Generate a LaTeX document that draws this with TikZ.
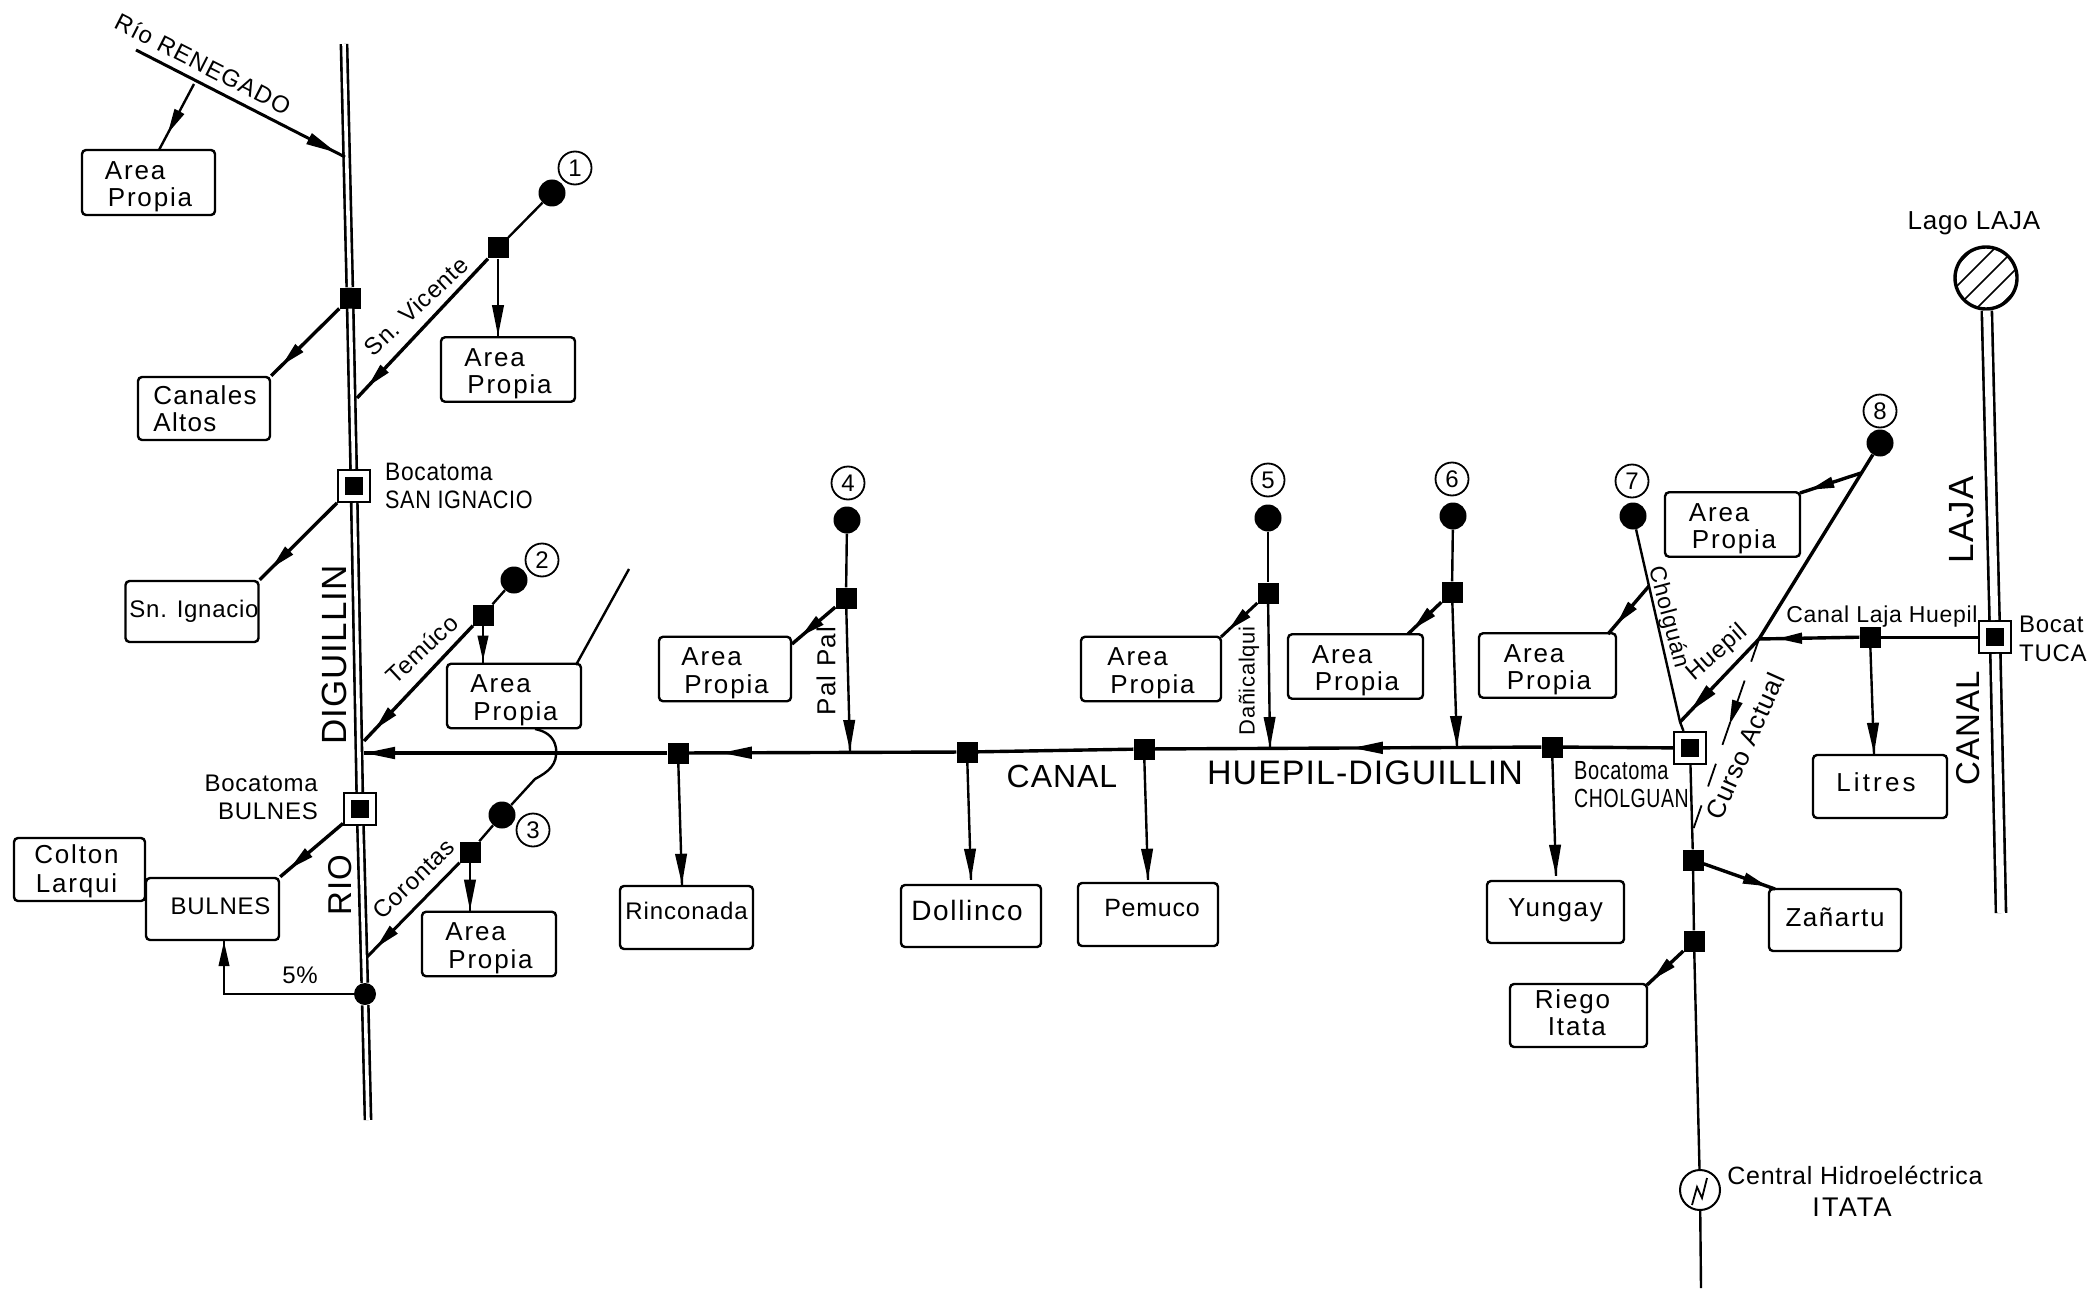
\documentclass[tikz,border=0pt]{standalone}
\usepackage{fontspec}
\usepackage{graphicx}
\setmainfont[LetterSpace=3]{Liberation Sans}
\usetikzlibrary{arrows.meta,decorations.markings,calc}
\newcommand{\fs}[1]{\fontsize{#1}{#1}\selectfont}
\newcommand{\ls}[1]{\addfontfeature{LetterSpace=#1}}
\newcommand{\up}[2][6pt]{\raisebox{#1}{#2}}
\newcommand{\bx}[6]{\node[box,minimum width={(#4-#2)*1pt},minimum height={(#5-#3)*1pt}] (#1) at ({(#2+#4)/2},{(#3+#5)/2}) {#6};}
\newcommand{\areatxt}{{\ls{7}\begin{tabular}{@{}l@{}}\rule{0pt}{29pt}Area\\[1pt]\hspace*{3pt}Propia\end{tabular}}}
\tikzset{
  box/.style={draw,rectangle,rounded corners=4pt,line width=2.4pt,inner sep=0pt,fill=white,font=\fs{26},align=left},
  gate/.style={rectangle,fill=black,minimum size=21pt,inner sep=0pt},
  intake/.style={rectangle,draw,line width=2pt,fill=white,minimum size=32pt,inner sep=0pt,
    path picture={\fill[black] ([shift={(-9pt,-9pt)}]path picture bounding box.center) rectangle ([shift={(9pt,9pt)}]path picture bounding box.center);}},
  src/.style={circle,fill=black,minimum size=27pt,inner sep=0pt},
  num/.style={circle,draw,line width=1.8pt,minimum size=33pt,inner sep=0pt,font=\fs{24}},
  txt/.style={inner sep=0pt,font=\fs{24},align=left},
  bigtxt/.style={inner sep=0pt,font=\fs{33}},
  ln/.style={line width=2.4pt},
  thk/.style={line width=3.4pt},
  river/.style={line width=2.6pt,double=white,double distance=3.6pt},
  arr/.style={postaction={decorate,decoration={markings,mark=at position #1 with {\arrow{Triangle[length=31pt,width=11.5pt]}}}}},
  sarr/.style={postaction={decorate,decoration={markings,mark=at position #1 with {\arrow{Triangle[length=25pt,width=10.5pt]}}}}},
}
\begin{document}
\begin{tikzpicture}[x=1pt,y=-1pt]
\useasboundingbox (0,0) rectangle (2087,1289);
\clip (0,0) rectangle (2087,1289);
\fill[white] (0,0) rectangle (2087,1289);
% boxes
\bx{a0}{82}{150}{215}{215}{\areatxt}
\bx{can}{138}{377}{270}{440}{\hspace*{2pt}\ls{5}Canales\\[1pt]\hspace*{2pt}\ls{5}Altos}
\bx{a1}{441}{338}{575}{401}{\areatxt}
\bx{sni}{126}{581}{258}{642}{\hspace*{4pt}\fs{24}Sn. Ignacio}
\bx{a2}{447}{665}{581}{727}{\areatxt}
\bx{col}{14}{838}{145}{901}{\hspace*{-6pt}{\ls{7}\begin{tabular}{@{}c@{}}\rule{0pt}{25pt}Colton\\[2pt]Larqui\end{tabular}}}
\bx{bul}{146}{878}{279}{940}{\hspace*{16pt}\up[6pt]{\fs{24}BULNES}}
\bx{a3}{422}{913}{556}{975}{\areatxt}
\bx{rin}{620}{886}{753}{949}{\up[14pt]{\fs{24}\ls{4}Rinconada}}
\bx{dol}{901}{885}{1041}{947}{\hspace*{-8pt}\up[11pt]{\fs{28}\ls{6}Dollinco}}
\bx{pem}{1078}{883}{1218}{946}{\hspace*{8pt}\up[14pt]{\fs{25}Pemuco}}
\bx{a4}{659}{638}{791}{700}{\areatxt}
\bx{a5}{1081}{638}{1221}{700}{\areatxt}
\bx{a6}{1288}{635}{1423}{698}{\areatxt}
\bx{a7}{1479}{634}{1616}{697}{\areatxt}
\bx{yun}{1487}{881}{1624}{943}{\up[8pt]{\ls{6}Yungay}}
\bx{a8}{1665}{493}{1800}{556}{\areatxt}
\bx{lit}{1813}{755}{1947}{818}{\hspace*{-8pt}\up[9pt]{\ls{12}Litres}}
\bx{zan}{1769}{889}{1901}{951}{\up[6pt]{\ls{6}Zañartu}}
\bx{rie}{1510}{984}{1647}{1047}{\hspace*{-12pt}{\ls{7}\begin{tabular}{@{}l@{}}\rule{0pt}{21pt}Riego\\[1pt]\hspace*{13pt}Itata\end{tabular}}}
% river nodes
\coordinate (rTop) at (344,44);
\coordinate (rBot) at (368,1120);
\node[gate] (gRa) at (350,298) {};
\node[intake] (bSI) at (354,486) {};
\node[intake] (bBu) at (360,809) {};
\node[circle,fill=black,minimum size=22pt,inner sep=0pt] (gDi) at (365,994) {};
% tributaries
\node[src] (s1) at (552,193) {};
\node[num] (n1) at (575,168) {1};
\node[gate] (g1) at (498,248) {};
\node[src] (s2) at (514,580) {};
\node[num] (n2) at (542,560) {2};
\node[gate] (g2) at (483,615) {};
\node[src] (s3) at (502,815) {};
\node[num] (n3) at (533,830) {3};
\node[gate] (g3) at (470,852) {};
\node[src] (s4) at (847,520) {};
\node[num] (n4) at (848,483) {4};
\node[gate] (g4) at (846,598) {};
\node[src] (s5) at (1268,518) {};
\node[num] (n5) at (1268,480) {5};
\node[gate] (g5) at (1268,593) {};
\node[src] (s6) at (1453,516) {};
\node[num] (n6) at (1452,479) {6};
\node[gate] (g6) at (1452,592) {};
\node[src] (s7) at (1633,516) {};
\node[num] (n7) at (1632,481) {7};
\node[src] (s8) at (1880,443) {};
\node[num] (n8) at (1880,411) {8};
% canal gates
\node[intake] (bCh) at (1690,748) {};
\node[gate] (gYu) at (1552,747) {};
\node[gate] (gPe) at (1144,749) {};
\node[gate] (gDo) at (967,752) {};
\node[gate] (gRi) at (678,753) {};
\node[intake] (bTu) at (1995,637) {};
\node[gate] (gLi) at (1870,637) {};
\node[gate] (gZa) at (1693,860) {};
\node[gate] (gIt) at (1694,941) {};
\node[circle,draw,line width=2pt,minimum size=40pt,inner sep=0pt] (cH) at (1700,1190) {};
% lake
\node[circle,draw,line width=3.4pt,minimum size=62pt,inner sep=0pt,
  path picture={\foreach \o in {-42,-21,0,21,42}{\draw[line width=1.6pt] ([shift={(\o-40,40)}]path picture bounding box.center) -- ([shift={(\o+40,-40)}]path picture bounding box.center);}}] (lake) at (1986,278) {};
% free ends
\coordinate (rnS) at (136,50);
\coordinate (rnE) at (345,157);
\coordinate (rnB) at (194,84);
\coordinate (a0i) at (159,150);
\coordinate (rV) at (357,398);
\coordinate (rT) at (364,741);
\coordinate (rC) at (367,957);
\coordinate (rCa) at (364,753);
\coordinate (a2u) at (629,569);
\coordinate (a2t) at (576,665);
\coordinate (a2b) at (535,729);
\coordinate (bmp1) at (535,779);
\coordinate (cP) at (850,751);
\coordinate (cD) at (1270,748);
\coordinate (cS) at (1457,747);
\coordinate (jA) at (1680,722);
\coordinate (jH) at (1759,639);
\coordinate (h8) at (1861,473);
\coordinate (h7) at (1649,586);
\coordinate (dul) at (224,994);
\coordinate (a4c) at (792,644);
\coordinate (a5c) at (1221,637);
\coordinate (a6c) at (1408,634);
\coordinate (a7c) at (1608,634);
\coordinate (a8c) at (1800,493);
\coordinate (zaC) at (1775,889);
\coordinate (itC) at (1647,985);
\coordinate (caE) at (1693,830);
\coordinate (hEnd) at (1701,1288);
\coordinate (lkB) at (2001,913);
% river
\draw[river] (rTop) -- (gRa) -- (bSI) -- (bBu) -- (gDi) -- (rBot);
% Laja
\draw[line width=2.6pt,double=white,double distance=7.5pt] (lake) -- (bTu) -- (lkB);
% canals
\draw[thk,arr=1] (gRi) -- (rCa);
\draw[thk,arr=.88] (gDo) -- (gRi);
\draw[thk] (gPe) -- (gDo);
\draw[thk,arr=.49] (gYu) -- (gPe);
\draw[thk] (bCh) -- (gYu);
% Renegado
\draw[line width=3pt,arr=.96] (rnS) -- (rnE);
\draw[ln,sarr=.75] (rnB) -- (a0i);
% San Vicente
\draw[ln] (s1) -- (g1);
\draw[thk,sarr=.92] (g1) -- (rV);
\draw[ln,arr=1] (g1) -- (g1 |- a1.north);
\draw[thk,sarr=.85] (gRa) -- (can.north east);
\draw[thk,sarr=.85] (bSI) -- (sni.north east);
% Temuco
\draw[ln] (s2) -- (g2);
\draw[thk,sarr=.9] (g2) -- (rT);
\draw[ln,sarr=.95] (g2) -- (g2 |- a2.north);
\draw[ln] (a2u) -- (a2t);
\draw[ln] (s3) -- (bmp1) .. controls (548,772) and (558,765) .. (556,748) .. controls (554,736) and (545,731) .. (a2b);
% Corontas
\draw[ln] (s3) -- (g3);
\draw[line width=3pt,sarr=.9] (g3) -- (rC);
\draw[ln,arr=1] (g3) -- (g3 |- a3.north);
\draw[thk,sarr=.85] (bBu) -- (bul.north east);
\draw[ln,sarr=1] (gDi) -- (dul) -- (dul |- bul.south);
% Pal Pal etc.
\draw[ln] (s4) -- (g4);
\draw[ln,arr=1] (g4) -- (cP);
\draw[thk,sarr=.8] (g4) -- (a4c);
\draw[ln] (s5) -- (g5);
\draw[ln,arr=1] (g5) -- (cD);
\draw[line width=3pt,sarr=.8] (g5) -- (a5c);
\draw[ln] (s6) -- (g6);
\draw[ln,arr=1] (g6) -- (cS);
\draw[thk,sarr=.85] (g6) -- (a6c);
\draw[ln] (s7) -- (jA) -- (bCh);
\draw[thk,sarr=.8] (h7) -- (a7c);
\draw[thk] (s8) -- (jH);
\draw[thk,arr=.88] (jH) -- (jA);
\draw[thk,sarr=.85] (h8) -- (a8c);
\draw[thk,sarr=.82] (gLi) -- (jH);
\draw[line width=3pt] (bTu) -- (gLi);
\draw[ln,arr=1] (gLi) -- ($(gLi |- lit.north)+(4,0)$);
\draw[ln,arr=1] (gRi) -- ($(gRi |- rin.north)+(4,0)$);
\draw[ln,arr=1] (gDo) -- ($(gDo |- dol.north)+(4,-4)$);
\draw[ln,arr=1] (gPe) -- ($(gPe |- pem.north)+(4,-2)$);
\draw[ln,arr=1] (gYu) -- ($(gYu |- yun.north)+(4,-4)$);
% curso actual
\draw[line width=1.8pt,dash pattern=on 24pt off 20pt,sarr=.45] (jH) -- (caE);
% Itata line
\draw[ln] (bCh) -- (gZa) -- (gIt) -- (cH) -- (hEnd);
\draw[thk,sarr=.9] (gZa) -- (zaC);
\draw[thk,sarr=.85] (gIt) -- (itC);
% generator glyph
\draw[line width=1.8pt] ([shift={(-8,15)}]cH.center) -- ([shift={(-3,-3)}]cH.center) -- ([shift={(2,8)}]cH.center) -- ([shift={(7,-12)}]cH.center);
% labels
\node[txt,rotate=-27] (tRen) at (203,64) {\fs{24}\ls{5}Río RENEGADO};
\node[txt,rotate=43] (tVic) at (416,306) {Sn. Vicente};
\node[txt,anchor=west] (tSI) at (385,472) {\scalebox{.95}[1.05]{Bocatoma}};
\node[txt,anchor=west] (tSI2) at (385,500) {\scalebox{.9}[1.05]{SAN IGNACIO}};
\node[bigtxt,rotate=90] (tDig) at (334,655) {\fs{35}DIGUILLIN};
\node[bigtxt,rotate=90] (tRio) at (340,885) {RIO};
\node[txt,rotate=43] (tTem) at (422,649) {Temúco};
\node[txt,rotate=44] (tCor) at (414,879) {Corontas};
\node[txt,anchor=east] (tBu) at (318,783) {Bocatoma};
\node[txt,anchor=east] (tBu2) at (318,811) {BULNES};
\node[txt] (t5) at (300,975) {5\%};
\node[txt,rotate=90] (tPal) at (826,671) {\fs{26}\ls{5}Pal Pal};
\node[txt,rotate=90] (tDan) at (1249,681) {\fs{22}Dañicalqui};
\node[bigtxt] (tCan) at (1062,776) {\fs{32}CANAL};
\node[bigtxt] (tHue) at (1365,773) {\fs{34}HUEPIL-DIGUILLIN};
\node[txt,anchor=west] (tCh) at (1574,771) {\scalebox{.8}[1.05]{\fs{25}Bocatoma}};
\node[txt,anchor=west] (tCh2) at (1574,798) {\scalebox{.78}[1.05]{\fs{25}CHOLGUAN}};
\node[txt,rotate=-75] (tChg) at (1668,617) {\fs{23}Cholguán};
\node[txt,rotate=41] (tHp) at (1717,653) {Huepil};
\node[txt,rotate=66] (tCur) at (1745,746) {\fs{26}Curso Actual};
\node[txt] (tClh) at (1882,617) {\fs{23}Canal Laja Huepil};
\node[bigtxt,rotate=90] (tLaj) at (1962,520) {\fs{35}LAJA};
\node[bigtxt,rotate=90] (tCan2) at (1968,728) {CANAL};
\node[txt,anchor=west] (tTu) at (2019,624) {Bocat};
\node[txt,anchor=west] (tTu2) at (2019,653) {TUCA};
\node[txt] (tLago) at (1974,223) {\fs{26}Lago LAJA};
\node[txt] (tCen) at (1855,1175) {\fs{25}Central Hidroeléctrica};
\node[txt] (tIt) at (1852,1207) {\fs{27}\ls{8}ITATA};
\end{tikzpicture}
\end{document}
